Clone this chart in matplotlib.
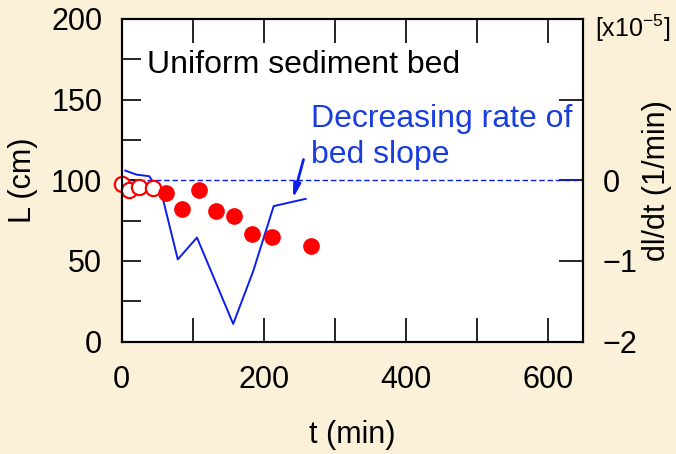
import numpy as np
import matplotlib
matplotlib.use('Agg')
import matplotlib.pyplot as plt
from matplotlib.ticker import MultipleLocator

plt.rcParams['font.family'] = ['Liberation Sans', 'DejaVu Sans']
plt.rcParams['mathtext.fontset'] = 'custom'
plt.rcParams['mathtext.rm'] = 'Liberation Sans'
plt.rcParams['mathtext.it'] = 'Liberation Sans:italic'

# bed length, early runs (open) and later runs (filled)
t_open = [0, 11, 25, 44]
L_open = [98, 94, 96, 95]
t_fill = [62, 85, 109, 133, 158, 184, 211, 266]
L_fill = [92, 82, 94, 81, 78, 67, 65, 59]

# rate of change of bed slope, units of 1e-5 1/min
t_rate = [5, 21, 39, 58, 79, 106, 157, 185, 214, 259]
dl_dt = [0.12, 0.07, 0.05, -0.23, -0.98, -0.71, -1.78, -1.13, -0.32, -0.23]

rate_ticks = [-2, -1, 0, 1]
rate_labels = ['\u22122', '\u22121', '0', '']

bg = '#fbf0d8'
blue_txt = '#1a3ddd'
blue_line = '#0a1ef0'

fig = plt.figure(figsize=(6.76, 4.54), dpi=100, facecolor=bg)
ax = fig.add_axes([0.180, 0.2474, 0.683, 0.711])
ax2 = ax.twinx()

# keep the scatter above the rate curve
ax.set_zorder(2)
ax.patch.set_visible(False)
ax2.set_zorder(1)
ax2.patch.set_visible(True)
ax2.set_facecolor('white')

ax2.axhline(0, color=blue_line, lw=1.0, ls=(0, (4, 2)))
ax2.plot(t_rate, dl_dt, color=blue_line, lw=1.4)
ax2.set_ylim(-2, 2)
ax2.set_yticks(rate_ticks)
ax2.set_yticklabels(rate_labels)
ax2.tick_params(axis='y', direction='in', length=17, width=1.2, labelsize=22, pad=14)
ax2.set_ylabel('dl/dt (1/min)', fontsize=22, rotation=90, labelpad=3)
ax2.text(1.025, 0.97, '[x10$^{-5}$]', transform=ax2.transAxes, fontsize=18,
         ha='left', va='center')

ax.plot(t_open, L_open, 'o', ms=11, mfc='white', mec='red', mew=1.6, clip_on=False)
ax.plot(t_fill, L_fill, 'o', ms=11, mfc='red', mec='red', clip_on=False)

ax.set_xlim(0, 650)
ax.set_ylim(0, 200)
ax.xaxis.set_major_locator(MultipleLocator(200))
ax.xaxis.set_minor_locator(MultipleLocator(100))
ax.yaxis.set_major_locator(MultipleLocator(50))
ax.yaxis.set_minor_locator(MultipleLocator(25))
ax.tick_params(axis='x', which='both', direction='in', top=True, length=17, width=1.2,
               labelsize=22, pad=17)
ax.tick_params(axis='y', which='both', direction='in', length=14, width=1.2,
               labelsize=22, pad=14)
for s in list(ax.spines.values()) + list(ax2.spines.values()):
    s.set_linewidth(1.5)

ax.set_xlabel('t (min)', fontsize=22, labelpad=18)
ax.set_ylabel('L (cm)', fontsize=22, labelpad=9)

ax.text(35, 171.5, 'Uniform sediment bed', fontsize=23, ha='left', va='center')
ax.text(267, 127, 'Decreasing rate of\nbed slope', fontsize=23, color=blue_txt,
        ha='left', va='center', linespacing=1.25)
ax.annotate('', xy=(240, 87), xytext=(257, 114.5),
            arrowprops=dict(arrowstyle='-|>,head_length=0.8,head_width=0.2',
                            color=blue_line, lw=2))

fig.savefig('out.png', dpi=100, facecolor=bg)
